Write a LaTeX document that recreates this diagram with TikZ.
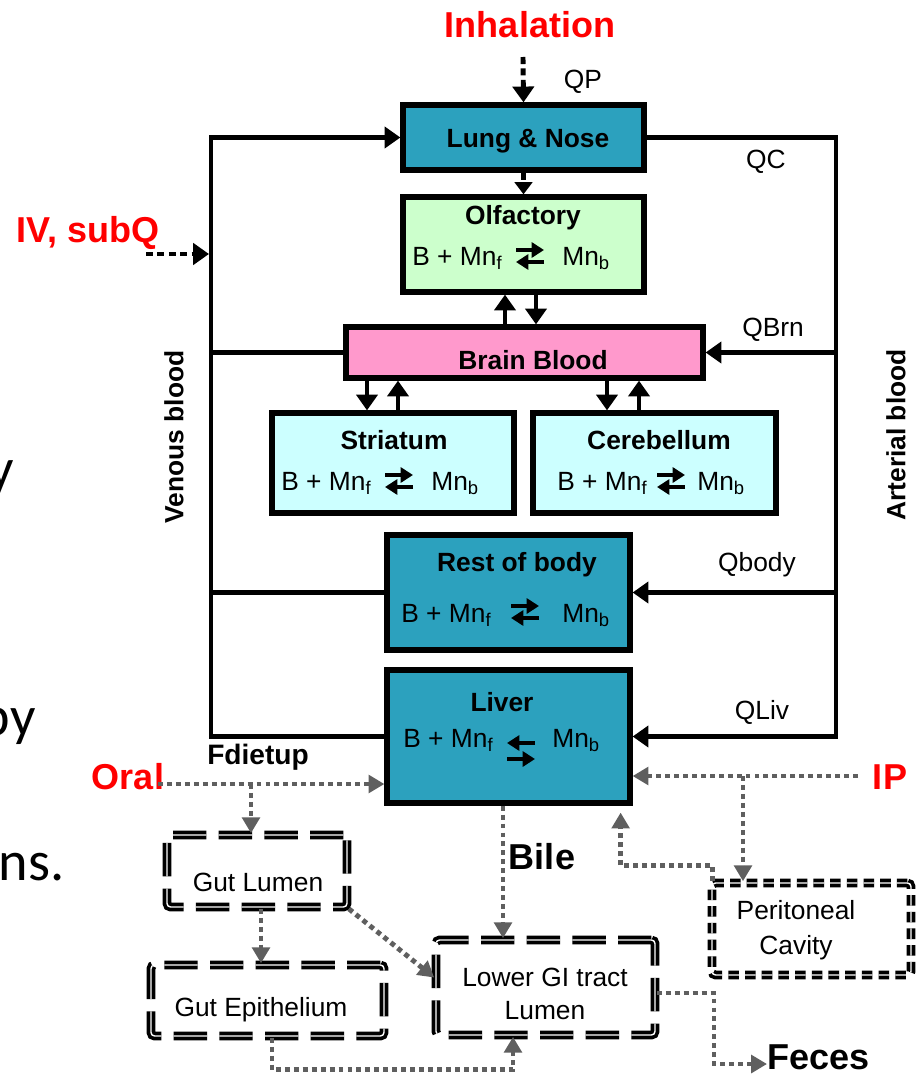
\documentclass[tikz,border=0pt]{standalone}
\usepackage{fontspec}
\setmainfont{Liberation Sans}
\newfontfamily\slidefont{Carlito}
\usetikzlibrary{arrows.meta}

\definecolor{tealbox}{HTML}{2CA1BE}
\definecolor{olfgreen}{HTML}{CCFFCC}
\definecolor{brainpink}{HTML}{FF99CC}
\definecolor{regioncyan}{HTML}{CCFFFF}
\definecolor{routegray}{HTML}{5F5F5F}
\definecolor{routered}{HTML}{FF0000}

\tikzset{
  comp/.style={draw, line width=3pt, inner sep=0pt},
  gutbox/.style={draw, line width=2.1pt, double, double distance=0.8pt,
    dash pattern=on 19pt off 7pt, rounded corners=2pt, inner sep=0pt},
  peribox/.style={draw, line width=2.1pt, double, double distance=0.8pt,
    dash pattern=on 6pt off 3.5pt, rounded corners=2pt, inner sep=0pt},
  blood/.style={line width=2.6pt},
  flowtip/.style={-{Triangle[width=12pt,length=9pt]}},
  smalltip/.style={-{Triangle[width=10pt,length=7pt]}},
  bdot/.style={line width=2.8pt, dash pattern=on 4pt off 2.5pt},
  gdot/.style={draw=routegray, line width=2.8pt, dash pattern=on 2.8pt off 2.3pt},
  gtip/.style={-{Triangle[width=10pt,length=9pt]}, routegray},
  eqtip/.style={line width=2.4pt, -{Triangle[width=8.5pt,length=7pt]}},
  lbl/.style={font=\fontsize{15}{18}\selectfont, inner sep=0pt},
  ttl/.style={font=\fontsize{15}{18}\selectfont\bfseries, inner sep=0pt},
  route/.style={font=\fontsize{20.5}{24}\selectfont\bfseries, text=routered, inner sep=0pt},
  big/.style={font=\fontsize{20.5}{24}\selectfont\bfseries, inner sep=0pt},
  slide/.style={font=\slidefont\fontsize{32}{38}\selectfont, inner sep=0pt},
  fwdback/.pic={
    \draw[eqtip] (-14,-6) -- (14,-6);
    \draw[eqtip] (14,6) -- (-14,6);
  },
  backfwd/.pic={
    \draw[eqtip] (14,-8) -- (-14,-8);
    \draw[eqtip] (-14,8) -- (14,8);
  }
}

\begin{document}
\begin{tikzpicture}[x=0.02cm, y=-0.02cm]
\useasboundingbox (0,0) rectangle (917,1078);

% slide text cut off at the left
\begin{scope}
  \clip (0,0) rectangle (917,1078);
  \node[slide, anchor=base east] (frag1) at (14,487) {y};
  \node[slide, anchor=base east] (frag2) at (36,735) {by};
  \node[slide, anchor=base east] (frag3) at (65,880) {ns.};
\end{scope}

% compartments
\node[comp, fill=tealbox, minimum width=4.82cm, minimum height=1.3cm] (lung) at (523.5,137.5) {};
\node[comp, fill=olfgreen, minimum width=4.82cm, minimum height=1.9cm] (olf) at (523.5,244.5) {};
\node[comp, fill=brainpink, minimum width=7.14cm, minimum height=1.02cm] (brain) at (524.5,352.5) {};
\node[comp, fill=regioncyan, minimum width=4.84cm, minimum height=2cm] (striatum) at (393,463) {};
\node[comp, fill=regioncyan, minimum width=4.86cm, minimum height=2cm] (cereb) at (654.5,463) {};
\node[comp, fill=tealbox, minimum width=4.86cm, minimum height=2.3cm] (rest) at (508.5,592.5) {};
\node[comp, fill=tealbox, minimum width=4.86cm, minimum height=2.66cm] (liver) at (508.5,736.5) {};

% titles
\node[ttl] (lungtxt) at (528,141) {Lung \& Nose};
\node[ttl] (olftxt) at (523,218) {Olfactory};
\node[ttl] (braintxt) at (533,360) {Brain Blood};
\node[ttl] (striatumtxt) at (394,440) {Striatum};
\node[ttl] (cerebtxt) at (659,440) {Cerebellum};
\node[ttl] (resttxt) at (517,565) {Rest of body};
\node[ttl] (livertxt) at (502,702) {Liver};

% binding equilibria
\node[lbl, anchor=base west] (olffree) at (412,265) {B + Mn\textsubscript{f}};
\node[lbl, anchor=base west] (olfbound) at (562,265) {Mn\textsubscript{b}};
\pic (olfeq) at (530,256) {fwdback};
\node[lbl, anchor=base west] (strfree) at (281,490) {B + Mn\textsubscript{f}};
\node[lbl, anchor=base west] (strbound) at (431,490) {Mn\textsubscript{b}};
\pic (streq) at (399,481) {fwdback};
\node[lbl, anchor=base west] (cerfree) at (557,490) {B + Mn\textsubscript{f}};
\node[lbl, anchor=base west] (cerbound) at (697,490) {Mn\textsubscript{b}};
\pic (cereq) at (671,481) {fwdback};
\node[lbl, anchor=base west] (restfree) at (401,622) {B + Mn\textsubscript{f}};
\node[lbl, anchor=base west] (restbound) at (562,622) {Mn\textsubscript{b}};
\pic (resteq) at (525,612) {fwdback};
\node[lbl, anchor=base west] (livfree) at (403,747) {B + Mn\textsubscript{f}};
\node[lbl, anchor=base west] (livbound) at (552,747) {Mn\textsubscript{b}};
\pic (liveq) at (521,751) {backfwd};

% blood circulation
\coordinate (vtop) at (211,137.5);
\coordinate (vbot) at (211,736.5);
\coordinate (atop) at (836,137.5);
\coordinate (abot) at (836,736.5);
\draw[blood, flowtip] (liver.west) -- (vbot) -- (vtop) -- (lung.west);
\draw[blood, flowtip] (lung.east) -- (atop) -- (abot) -- (liver.east);
\draw[blood] (brain.west) -- (brain.west -| vtop);
\draw[blood] (rest.west) -- (rest.west -| vtop);
\draw[blood, flowtip] (brain.east -| atop) -- (brain.east);
\draw[blood, flowtip] (rest.east -| atop) -- (rest.east);
\draw[blood, flowtip] ([xshift=-0.39cm]brain.north) -- ([xshift=-0.37cm]olf.south);
\draw[blood, flowtip] ([xshift=0.25cm]olf.south) -- ([xshift=0.23cm]brain.north);
\draw[blood, flowtip] ([xshift=-0.52cm]striatum.north |- brain.south) -- ([xshift=-0.52cm]striatum.north);
\draw[blood, flowtip] ([xshift=0.1cm]striatum.north) -- ([xshift=0.1cm]striatum.north |- brain.south);
\draw[blood, flowtip] ([xshift=-0.95cm]cereb.north |- brain.south) -- ([xshift=-0.95cm]cereb.north);
\draw[blood, flowtip] ([xshift=-0.31cm]cereb.north) -- ([xshift=-0.31cm]cereb.north |- brain.south);

% flow labels
\node[lbl] (qp) at (583,82) {QP};
\node[lbl] (qc) at (766,162) {QC};
\node[lbl] (qbrn) at (773,330) {QBrn};
\node[lbl] (qbody) at (757,565) {Qbody};
\node[lbl] (qliv) at (762,712) {QLiv};
\node[ttl, rotate=90] (venous) at (174,437) {Venous blood};
\node[ttl, rotate=90] (arterial) at (896,435) {Arterial blood};

% inhalation and IV routes
\node[route] (inh) at (530,25) {Inhalation};
\coordinate (inhstart) at (523,57);
\draw[bdot, flowtip] (inhstart) -- (lung.north);
\draw[bdot, smalltip] (lung.south) -- (olf.north);
\node[route] (iv) at (88,233) {IV, subQ};
\coordinate (ivstart) at (146,254);
\draw[bdot, flowtip] (ivstart) -- (209,254);

% GI tract and peritoneum
\node[gutbox, minimum width=3.6cm, minimum height=1.44cm] (gutlumen) at (257,871) {};
\node[lbl] (gutlumentxt) at (258,882) {Gut Lumen};
\node[gutbox, minimum width=4.66cm, minimum height=1.42cm] (gutepi) at (267.5,1000.5) {};
\node[lbl] (gutepitxt) at (261,1010) {Gut Epithelium};
\node[gutbox, minimum width=4.38cm, minimum height=1.9cm] (lowergi) at (545.5,987.5) {};
\node[lbl, align=center] (lowergitxt) at (545,994) {Lower GI tract\\[1pt]Lumen};
\node[peribox, minimum width=3.98cm, minimum height=1.84cm] (peri) at (811.5,929) {};
\node[lbl, align=center] (peritxt) at (796,930) {Peritoneal\\[2pt]Cavity};

% oral and IP routes
\node[route] (oral) at (128,777) {Oral};
\node[route] (ip) at (890,777) {IP};
\node[ttl, font=\fontsize{16}{19}\selectfont\bfseries] (fdiet) at (258,757) {Fdietup};
\node[big] (bile) at (542,857) {Bile};
\node[big, anchor=west] (feces) at (767,1057) {Feces};
\coordinate (oralstart) at (158,784);
\coordinate (diet) at (251,784);
\coordinate (ipstart) at (858,776);
\coordinate (ipsplit) at (743,776);
\draw[gdot, gtip] (oralstart) -- (oralstart -| liver.west);
\draw[gdot, gtip] (diet) -- (diet |- gutlumen.north);
\draw[gdot, gtip] (ipstart) -- (ipstart -| liver.east);
\draw[gdot, gtip] (ipsplit) -- (ipsplit |- peri.north);
\draw[gdot, gtip] ([xshift=-0.11cm]liver.south) -- ([xshift=-0.11cm]liver.south |- lowergi.north);
\draw[gdot, gtip] ([xshift=0.04cm]peri.north west) |- ([xshift=-0.24cm,yshift=-1.2cm]liver.south east) -- ([xshift=-0.24cm,yshift=-0.14cm]liver.south east);
\draw[gdot, gtip] ([xshift=0.08cm]gutlumen.south) -- ([xshift=0.08cm]gutlumen.south |- gutepi.north);
\draw[gdot, gtip] (gutlumen.south east) -- ([yshift=0.2cm]lowergi.west);
\draw[gdot, gtip] ([xshift=0.09cm]gutepi.south) -- ++(0,32) -| ([xshift=-0.65cm]lowergi.south);
\draw[gdot, gtip] ([yshift=-0.11cm]lowergi.east) -| (714,1064) -- (feces.west |- 714,1064);
\end{tikzpicture}
\end{document}
